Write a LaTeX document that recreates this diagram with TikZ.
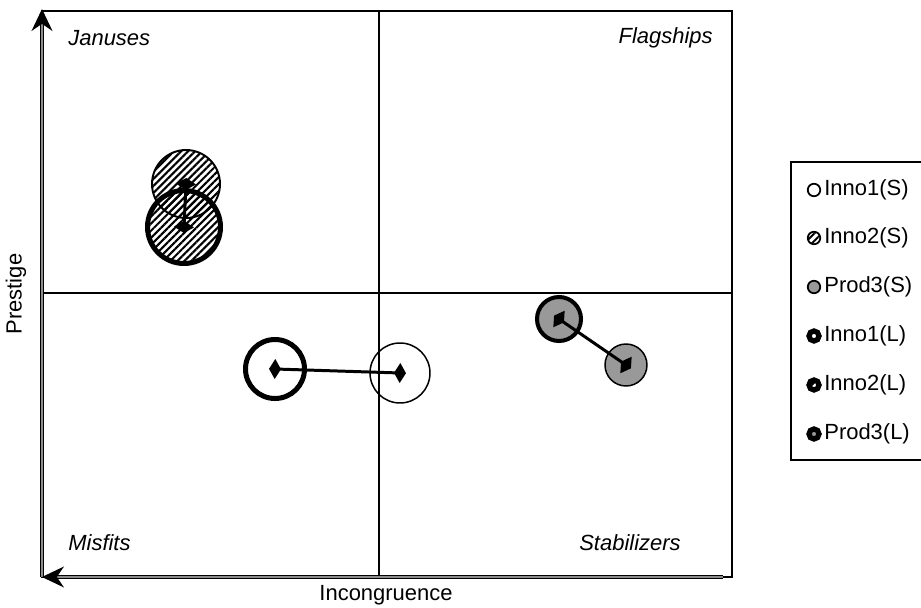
\documentclass[tikz,border=0pt]{standalone}
\usepackage{fontspec}
\setmainfont{Liberation Sans}
\usetikzlibrary{arrows.meta,patterns.meta}

\begin{document}
\begin{tikzpicture}[x=0.02cm, y=-0.02cm,
  quad/.style={font=\fontsize{12.5}{14}\selectfont\itshape, inner sep=0pt},
  axlabel/.style={font=\fontsize{12.5}{14}\selectfont, inner sep=0pt},
  axis/.style={line width=0.8pt, double=black!45, double distance=0.9pt,
    -{Stealth[length=0.44cm,width=0.42cm]}},
  thinline/.style={line width=0.75pt},
  hatched/.style={pattern={Lines[angle=45,distance=0.1cm,line width=1.2pt]}},
  keyhatch/.style={pattern={Lines[angle=45,distance=3pt,line width=1.1pt]}},
  small/.style={circle, draw, line width=0.85pt, inner sep=0pt},
  large/.style={circle, draw, line width=2.85pt, inner sep=0pt},
  link/.style={line width=1.7pt, shorten >=-3.4pt, shorten <=-3.4pt,
    {Diamond[length=6.8pt,width=11.4pt]}-{Diamond[length=6.8pt,width=11.4pt]}},
  keyS/.style={small, line width=1pt, minimum size=0.25cm},
  keyL/.style={large, minimum size=0.2cm, line width=3pt},
  keyinnoS/.style={keyS},
  keyinnohS/.style={keyS, keyhatch},
  keyprodS/.style={keyS, fill=black!40},
  keyinnoL/.style={keyL, fill=white},
  keyinnohL/.style={keyL, keyhatch},
  keyprodL/.style={keyL, fill=black!40},
  keytext/.style={font=\fontsize{12.5}{14}\selectfont, anchor=west, inner sep=0pt}]
\useasboundingbox (0,0) rectangle (921,608);
% Frame and quadrant lines
\draw[thinline] (42,11) rectangle (732,577);
\draw[thinline] (379,11) -- (379,577);
\draw[thinline] (42,293) -- (732,293);
% Axes
\coordinate (o) at (42,577);
\coordinate (ytop) at (42,9);
\coordinate (xend) at (723,577);
\draw[axis] (o) -- (ytop);
\draw[axis] (xend) -- (o);
\node[axlabel, rotate=90] (ylab) at (16,294) {Prestige};
\node[axlabel] (xlab) at (386,595) {Incongruence};
% Quadrant names
\node[quad, anchor=west] (jan) at (68,38) {Januses};
\node[quad, anchor=east] (flag) at (713,38) {Flagships};
\node[quad, anchor=west] (mis) at (68,543) {Misfits};
\node[quad, anchor=east] (stab) at (681,543) {Stabilizers};
% Inno2
\node[small, line width=1.1pt, minimum size=1.36cm, hatched] (i2s) at (186,184) {};
\node[large, minimum size=1.46cm, hatched] (i2l) at (184,227) {};
\draw[link] (i2l.center) -- (i2s.center);
% Inno1
\node[large, minimum size=1.18cm] (i1l) at (275,369) {};
\node[small, minimum size=1.2cm] (i1s) at (400,373) {};
\draw[link] (i1l.center) -- (i1s.center);
% Prod3
\node[large, line width=2.3pt, minimum size=0.88cm, fill=black!40] (p3l) at (559,319) {};
\node[small, minimum size=0.84cm, fill=black!40] (p3s) at (626,365) {};
\draw[link] (p3l.center) -- (p3s.center);
% Legend
\draw[thinline] (791,162) rectangle (930,460);
\foreach \y/\nm/\st in {190/Inno1(S)/keyinnoS, 238/Inno2(S)/keyinnohS,
    287/Prod3(S)/keyprodS, 336/Inno1(L)/keyinnoL,
    385/Inno2(L)/keyinnohL, 434/Prod3(L)/keyprodL}
{
  \node[\st] (m\y) at (814,\y) {};
  \node[keytext] (t\y) at (824,\y) {\nm};
}
\end{tikzpicture}
\end{document}
